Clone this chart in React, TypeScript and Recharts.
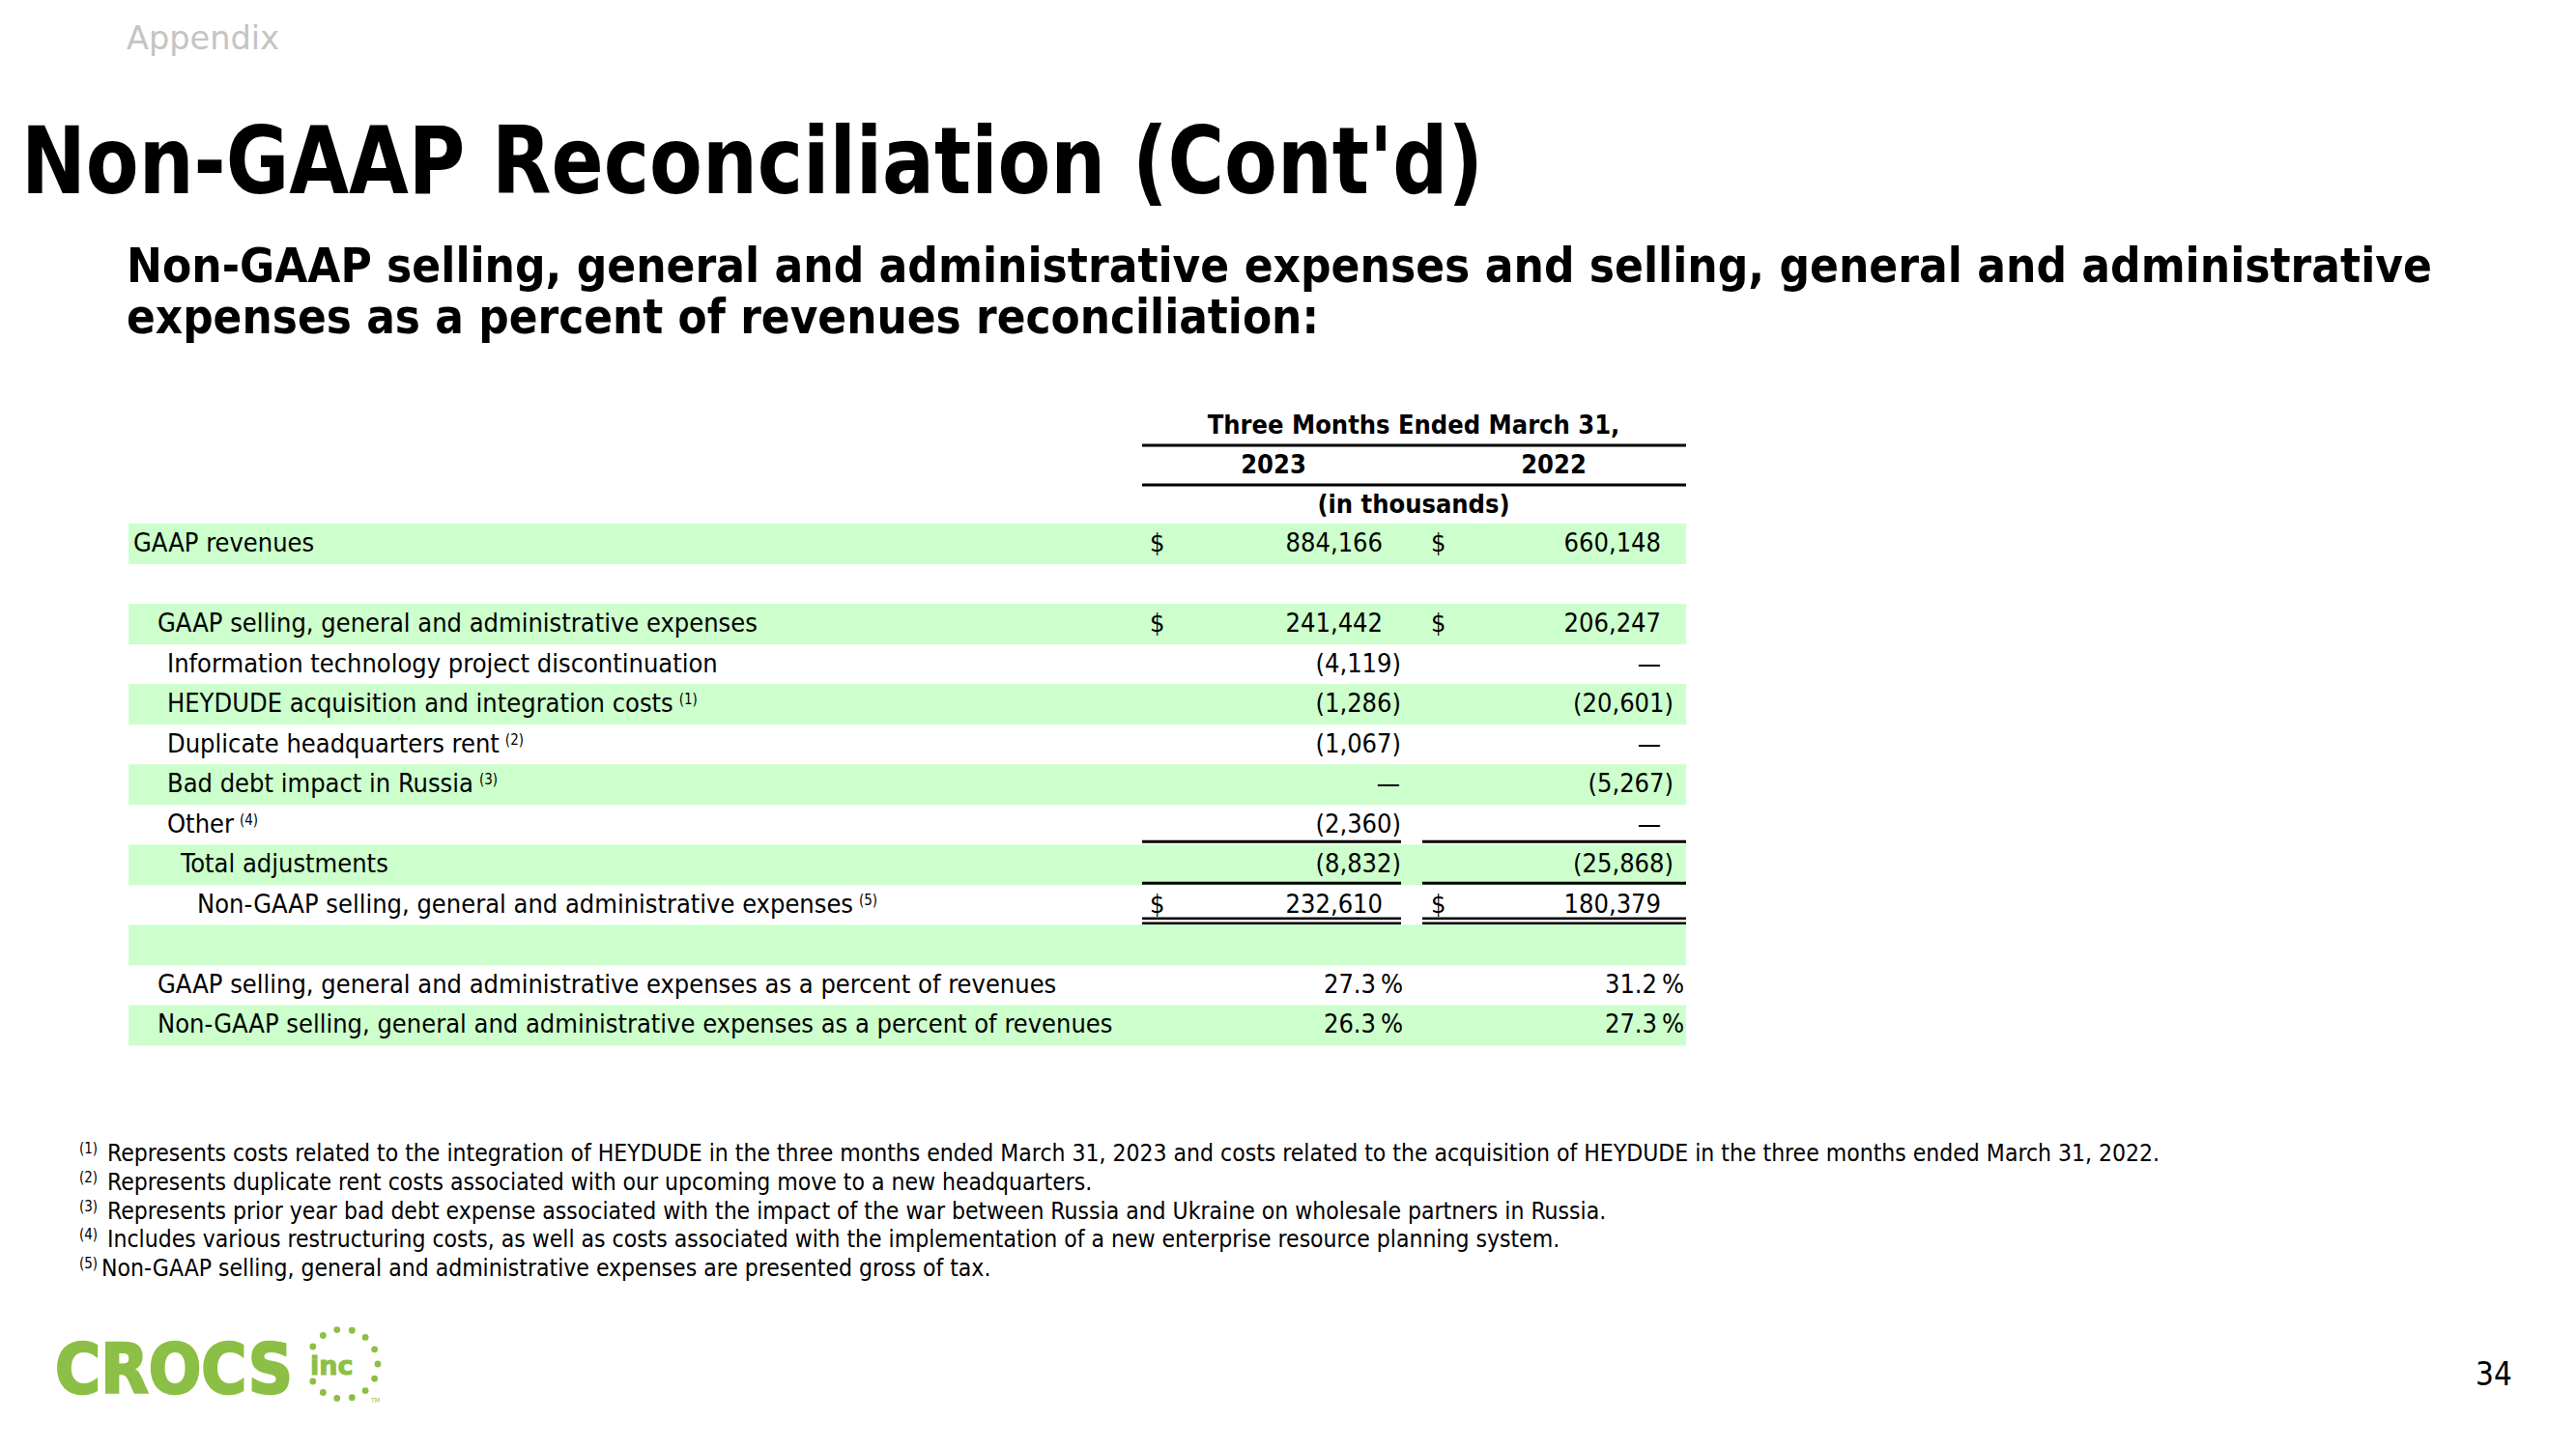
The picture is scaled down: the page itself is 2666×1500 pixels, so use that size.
import { Bar, ComposedChart, XAxis, YAxis } from "recharts";

const FONT = "'DejaVu Sans Condensed', 'DejaVu Sans', sans-serif";
const GREEN_BAND = "#ccffcc";
const LOGO_GREEN = "#8cbf45";

// rows of the reconciliation table (top to bottom)
const rowIds = ["rev", "gap1", "sga", "it", "hey", "dup", "bad", "other", "total", "nongaap", "gap2", "sgaPct", "ngPct"];
const rowLabels = [
  "GAAP revenues",
  "",
  "GAAP selling, general and administrative expenses",
  "Information technology project discontinuation",
  "HEYDUDE acquisition and integration costs",
  "Duplicate headquarters rent",
  "Bad debt impact in Russia",
  "Other",
  "Total adjustments",
  "Non-GAAP selling, general and administrative expenses",
  "",
  "GAAP selling, general and administrative expenses as a percent of revenues",
  "Non-GAAP selling, general and administrative expenses as a percent of revenues",
];
const footnoteRefs = ["", "", "", "", "(1)", "(2)", "(3)", "(4)", "", "(5)", "", "", ""];
const rowLevels = [0, 0, 1, 2, 2, 2, 2, 2, 3, 4, 0, 1, 1];
const rowKinds = ["usd", "blank", "usd", "num", "num", "num", "num", "num", "num", "usd", "blank", "pct", "pct"];
const values2023 = [884166, null, 241442, -4119, -1286, -1067, 0, -2360, -8832, 232610, null, 27.3, 26.3];
const values2022 = [660148, null, 206247, 0, -20601, 0, -5267, 0, -25868, 180379, null, 31.2, 27.3];

const yearLabels = ["2023", "2022"];
const headerTitle = "Three Months Ended March 31,";
const unitsLabel = "(in thousands)";

const footnotes = [
  ["(1)", "Represents costs related to the integration of HEYDUDE in the three months ended March 31, 2023 and costs related to the acquisition of HEYDUDE in the three months ended March 31, 2022."],
  ["(2)", "Represents duplicate rent costs associated with our upcoming move to a new headquarters."],
  ["(3)", "Represents prior year bad debt expense associated with the impact of the war between Russia and Ukraine on wholesale partners in Russia."],
  ["(4)", "Includes various restructuring costs, as well as costs associated with the implementation of a new enterprise resource planning system."],
  ["(5)", "Non-GAAP selling, general and administrative expenses are presented gross of tax."],
];

const rows = rowIds.map((id, i) => ({
  id,
  label: rowLabels[i],
  note: footnoteRefs[i],
  level: rowLevels[i],
  kind: rowKinds[i],
  v2023: values2023[i],
  v2022: values2022[i],
  span: 1,
}));

const W = 2666;
const H = 1500;
const TABLE_LEFT = 133;
const TABLE_RIGHT = 1745;
const TABLE_TOP = 542;
const TABLE_BOTTOM = 1082;
const LEVEL_X = [138, 163, 173, 187, 204];
const COLS = [
  { left: 1182, right: 1450, dollar: 1190, num: 1431, paren: 1450, pct: 1452, dash: 1437, center: 1318 },
  { left: 1472, right: 1745, dollar: 1481, num: 1719, paren: 1732, pct: 1743, dash: 1707, center: 1608 },
];
const FS = 27;

const fmt = (v: number) => Math.abs(v).toLocaleString("en-US");

// width of a label, so the footnote marker can sit right after it
const measureCtx = document.createElement("canvas").getContext("2d");
function textWidth(s: string, size: number, family = FONT, weight = "normal") {
  if (!measureCtx) return s.length * size * 0.5;
  measureCtx.font = `${weight} ${size}px ${family}`;
  return measureCtx.measureText(s).width;
}

function Cell({ kind, value, col, base }: { kind: string; value: number | null; col: typeof COLS[0]; base: number }) {
  if (value == null || kind === "blank") return null;
  const common = { fontFamily: FONT, fontSize: FS, fill: "#000" };
  if (kind === "pct") {
    return (
      <text {...common} x={col.pct} y={base} textAnchor="end">
        {value.toFixed(1)}{"\u2009"}%
      </text>
    );
  }
  if (value === 0) {
    return (
      <text {...common} x={col.dash} y={base} textAnchor="middle">
        —
      </text>
    );
  }
  return (
    <g>
      {kind === "usd" && (
        <text {...common} x={col.dollar} y={base}>
          $
        </text>
      )}
      {value < 0 ? (
        <text {...common} x={col.paren} y={base} textAnchor="end">
          ({fmt(value)})
        </text>
      ) : (
        <text {...common} x={col.num} y={base} textAnchor="end">
          {fmt(value)}
        </text>
      )}
    </g>
  );
}

function RowShape(props: any) {
  const { x, y, width, height, payload, index } = props;
  const mid = y + height / 2;
  const base = mid + 8;
  const labelX = LEVEL_X[payload.level];
  return (
    <g>
      {index % 2 === 0 && <rect x={x} y={y} width={width} height={height} fill={GREEN_BAND} />}
      {payload.label && (
        <text x={labelX} y={base} fontFamily={FONT} fontSize={FS} fill="#000">
          {payload.label}
        </text>
      )}
      {payload.note && (
        <text x={labelX + textWidth(payload.label, FS) + 6} y={base - 8} fontFamily={FONT} fontSize={15} fill="#000">
          {payload.note}
        </text>
      )}
      <Cell kind={payload.kind} value={payload.v2023} col={COLS[0]} base={base} />
      <Cell kind={payload.kind} value={payload.v2022} col={COLS[1]} base={base} />
      {payload.id === "total" &&
        COLS.map((c) => (
          <g key={c.left}>
            <line x1={c.left} x2={c.right} y1={y - 3} y2={y - 3} stroke="#000" strokeWidth={3} />
            <line x1={c.left} x2={c.right} y1={y + height - 2} y2={y + height - 2} stroke="#000" strokeWidth={3} />
          </g>
        ))}
      {payload.id === "nongaap" &&
        COLS.map((c) => (
          <g key={c.left}>
            <line x1={c.left} x2={c.right} y1={y + height - 7} y2={y + height - 7} stroke="#000" strokeWidth={2.5} />
            <line x1={c.left} x2={c.right} y1={y + height - 2} y2={y + height - 2} stroke="#000" strokeWidth={2.5} />
          </g>
        ))}
    </g>
  );
}

function Logo() {
  const cx = 355;
  const cy = 1412;
  const dots = Array.from({ length: 13 }, (_, i) => {
    const a = ((-150 + i * 25) * Math.PI) / 180;
    return { x: cx + 36 * Math.cos(a), y: cy + 36 * Math.sin(a) };
  });
  const logoFamily = "'DejaVu Sans', sans-serif";
  // scale the wordmark horizontally so its natural box is 248px wide
  const crocsW = textWidth("CROCS", 72, logoFamily, "bold");
  const sx = 246 / crocsW;
  return (
    <g fill={LOGO_GREEN}>
      <text
        transform={`translate(57,1442) scale(${sx},1)`}
        x={0}
        y={0}
        fontFamily={logoFamily}
        fontWeight={700}
        fontSize={72}
        stroke={LOGO_GREEN}
        strokeWidth={2.5}
      >
        CROCS
      </text>
      <text x={321} y={1423} fontFamily={logoFamily} fontWeight={700} fontSize={27} stroke={LOGO_GREEN} strokeWidth={1}>
        inc
      </text>
      {dots.map((d, i) => (
        <circle key={i} cx={d.x} cy={d.y} r={3.4} />
      ))}
      <text x={384} y={1452} fontFamily={FONT} fontSize={7}>
        TM
      </text>
    </g>
  );
}

function Overlay() {
  return (
    <svg width={W} height={H} style={{ position: "absolute", left: 0, top: 0, pointerEvents: "none" }}>
      <text x={131} y={51} fontFamily={FONT} fontSize={34} fill="#c4c4c4" textLength={158} lengthAdjust="spacingAndGlyphs">
        Appendix
      </text>
      <text x={22} y={200} fontFamily={FONT} fontWeight={700} fontSize={96} fill="#000" textLength={1513} lengthAdjust="spacingAndGlyphs">
        Non-GAAP Reconciliation (Cont'd)
      </text>
      <text x={131} y={292} fontFamily={FONT} fontWeight={700} fontSize={50} fill="#000" textLength={2386} lengthAdjust="spacingAndGlyphs">
        Non-GAAP selling, general and administrative expenses and selling, general and administrative
      </text>
      <text x={131} y={345} fontFamily={FONT} fontWeight={700} fontSize={50} fill="#000" textLength={1234} lengthAdjust="spacingAndGlyphs">
        expenses as a percent of revenues reconciliation:
      </text>

      <text x={1463} y={449} fontFamily={FONT} fontWeight={700} fontSize={FS} textAnchor="middle">
        {headerTitle}
      </text>
      <line x1={1182} x2={TABLE_RIGHT} y1={461} y2={461} stroke="#000" strokeWidth={3} />
      {yearLabels.map((yl, i) => (
        <text key={yl} x={COLS[i].center} y={490} fontFamily={FONT} fontWeight={700} fontSize={FS} textAnchor="middle">
          {yl}
        </text>
      ))}
      <line x1={1182} x2={TABLE_RIGHT} y1={502} y2={502} stroke="#000" strokeWidth={3} />
      <text x={1463} y={531} fontFamily={FONT} fontWeight={700} fontSize={FS} textAnchor="middle">
        {unitsLabel}
      </text>

      {footnotes.map(([ref, txt], i) => {
        const base = 1202 + i * 29.8;
        return (
          <g key={ref}>
            <text x={82} y={base - 8} fontFamily={FONT} fontSize={15}>
              {ref}
            </text>
            <text x={i === 4 ? 105 : 111} y={base} fontFamily={FONT} fontSize={24.5}>
              {txt}
            </text>
          </g>
        );
      })}

      <Logo />
      <text x={2562} y={1434} fontFamily={FONT} fontSize={33} fill="#000">
        34
      </text>
    </svg>
  );
}

export default function App() {
  return (
    <div style={{ position: "absolute", left: 0, top: 0, width: W, height: H, background: "#fff" }}>
      <ComposedChart
        width={W}
        height={H}
        layout="vertical"
        data={rows}
        margin={{ top: TABLE_TOP, bottom: H - TABLE_BOTTOM, left: TABLE_LEFT, right: W - TABLE_RIGHT }}
        barCategoryGap={0}
      >
        <XAxis type="number" domain={[0, 1]} hide />
        <YAxis type="category" dataKey="id" hide />
        <Bar dataKey="span" isAnimationActive={false} shape={RowShape} />
      </ComposedChart>
      <Overlay />
    </div>
  );
}
